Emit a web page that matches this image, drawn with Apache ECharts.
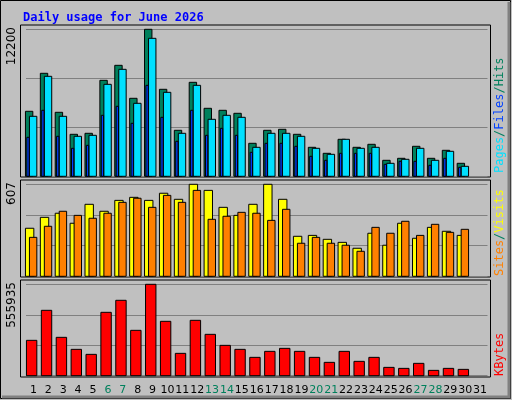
<!DOCTYPE html>
<html><head><meta charset="utf-8">
<script src="https://cdn.jsdelivr.net/npm/echarts@6/dist/echarts.min.js"></script>
<style>html,body{margin:0;padding:0;background:#c0c0c0}#c{width:512px;height:400px}</style>
</head><body><div id="c"></div>
<script>
const days = ['1','2','3','4','5','6','7','8','9','10','11','12','13','14','15','16','17','18','19','20','21','22','23','24','25','26','27','28','29','30','31'];
const weekend = ['6','7','13','14','20','21','27','28'];
const hits = [5394,8548,5311,3485,3568,7966,9211,6473,12200,7220,3817,7800,5643,5477,5228,2738,3817,3900,3485,2406,1909,3070,2406,2655,1328,1494,2489,1494,2157,1079];
const files = [4979,8298,4979,3319,3402,7634,8879,6058,11452,6970,3568,7551,4730,5062,4896,2406,3568,3568,3319,2323,1826,3070,2323,2406,1079,1411,2323,1328,2074,830];
const pages = [3236,5477,3319,2323,2572,5062,5809,4398,7551,4896,2904,5477,3402,3983,3402,1992,2738,2738,2489,1660,1328,1909,1909,1909,996,1245,1245,913,1494,747];
const visits = [317,389,416,350,475,429,501,521,501,548,508,607,567,455,402,475,607,508,264,270,244,224,185,284,205,350,251,323,297,270];
const sites = [257,330,429,402,383,416,488,515,455,534,488,567,376,396,422,416,369,442,218,257,218,205,165,323,284,363,270,343,290,310];
const kbytes = [215074,397684,233335,160291,129856,385510,458554,275944,555935,330727,135943,336814,251596,184639,160291,111595,148117,166378,148117,111595,81160,148117,87247,111595,50725,44638,75073,32464,44638,38551];
const maxTicks = [12200, 607, 555935];

const mk = (arr, axis, off, w, color) => ({
  type:'custom', xAxisIndex:axis, yAxisIndex:axis,
  data: arr.map((v,i)=>[i,v]),
  renderItem:(params, api)=>{
    const p = api.coord([api.value(0), api.value(1)]);
    const b = api.coord([api.value(0), 0]);
    return {type:'rect', shape:{x:p[0]+off, y:p[1], width:w, height:b[1]-p[1]},
      style:{fill:color, stroke:'#000', lineWidth:1}};
  }
});
const grids = [{top:29.3,height:147,left:26,width:461.5},{top:184.3,height:92,left:26,width:461.5},{top:284.3,height:91.4,left:26,width:461.5}];
const xAxes = grids.map((g,i)=>({type:'category', gridIndex:i, data:days, boundaryGap:true,
  axisLine:{show:false}, axisTick:{show:false},
  axisLabel: i===2 ? {show:true, interval:0, margin:9, fontFamily:'DejaVu Sans', fontSize:11,
    color:(v)=> weekend.includes(v)?'#00805c':'#000'} : {show:false}}));
const yAxes = maxTicks.map((m,i)=>({type:'value', gridIndex:i, min:0, max:m, interval:m/3,
  axisLabel:{show:false}, axisLine:{show:false}, axisTick:{show:false},
  splitLine:{show:true, lineStyle:{color:'#808080', width:1}}}));
const frames = [[25,177],[180,277],[280,377]].map(([a,b])=>({type:'rect', z:-1,
  shape:{x:20.5,y:a,width:470,height:b-a}, style:{fill:'#c0c0c0', stroke:'#000', lineWidth:1}}));
const ylab = (t,y)=>({type:'text', x:6, y:y, rotation:Math.PI/2,
  style:{text:t, font:'12px DejaVu Sans', fill:'#000', align:'right', verticalAlign:'top'}});
const F = '12px DejaVu Sans Mono';
const rlab = (parts,y)=>({type:'text', x:494, y:y, rotation:Math.PI/2,
  style:{text:parts.map(p=>'{'+p[1]+'|'+p[0]+'}').join(''), font:F, align:'left', verticalAlign:'top',
    rich:{a:{fill:'#00e0ff',font:F},b:{fill:'#0040ff',font:F},
      c:{fill:'#00805c',font:F},d:{fill:'#008060',font:F},
      e:{fill:'#ff8000',font:F},f:{fill:'#ffff00',font:F},
      g:{fill:'#ff0000',font:F}}}});
const chart = echarts.init(document.getElementById('c'));
chart.setOption({
  animation:false, backgroundColor:'#c0c0c0',
  title:{text:'Daily usage for June 2026', left:18, top:7, textStyle:{fontFamily:'DejaVu Sans Mono', fontWeight:'bold', fontSize:12, color:'#0000ff'}},
  grid:grids, xAxis:xAxes, yAxis:yAxes,
  graphic:[
    {type:'rect', z:-2, shape:{x:0.5,y:0.5,width:510,height:398}, style:{fill:'none', stroke:'#000', lineWidth:1}},
    {type:'polyline', shape:{points:[[509,2],[509,397],[2,397]]}, style:{stroke:'#808080', lineWidth:3, fill:'none'}},
    ...frames,
    ylab('12200',27), ylab('607',182), ylab('555935',282),
    rlab([['Pages','a'],['/','d'],['Files','b'],['/','d'],['Hits','c']],173),
    rlab([['Sites','e'],['/','d'],['Visits','f']],276),
    rlab([['KBytes','g']],376)
  ],
  series:[
    mk(hits,0,-8,7.4,'#00805c'),
    mk(files,0,-4,7.4,'#00e0ff'),
    mk(pages,0,-6.6,2.3,'#0040ff'),
    mk(visits,1,-8,8.4,'#ffff00'),
    mk(sites,1,-4,7.4,'#ff8000'),
    mk(kbytes,2,-7,10.4,'#ff0000')
  ]
});
</script></body></html>
